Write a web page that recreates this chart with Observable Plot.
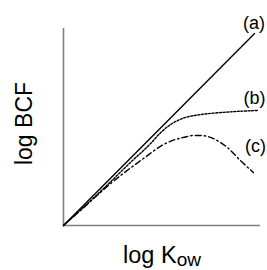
<!DOCTYPE html>
<html>
<head>
<meta charset="utf-8">
<script src="https://cdn.jsdelivr.net/npm/d3@7"></script>
<script src="https://cdn.jsdelivr.net/npm/@observablehq/plot@0.6"></script>
<style>
  html, body { margin: 0; padding: 0; background: #fff; }
  svg { font-family: "Liberation Sans", Arial, sans-serif; }
</style>
</head>
<body>
<div id="chart"></div>
<script>
// Curve (a): linear
const aX = [0, 9.7];
const aY = [0, 9.75];
// Curve (b): levels off
const bX = [0, 1.88, 3.40, 4.42, 4.92, 5.43, 6.09, 6.95, 7.82, 8.48, 9.85];
const bY = [0, 1.73, 3.20, 4.16, 4.70, 5.12, 5.45, 5.63, 5.72, 5.77, 5.84];
// Curve (c): rises then falls
const cX = [0, 0.86, 2.39, 4.06, 5.08, 5.69, 6.09, 6.60, 6.95, 7.46, 7.97, 8.32, 8.98, 9.64];
const cY = [0, 0.76, 2.13, 3.40, 4.11, 4.37, 4.47, 4.57, 4.57, 4.47, 4.21, 3.96, 3.30, 2.69];
// Curve labels
const labels = ["(a)", "(b)", "(c)"];
const labelX = [9.67, 9.70, 9.75];
const labelY = [10.28, 6.47, 4.04];
// Axis titles
const yTitle = "log BCF";
const xTitleMain = "log K";
const xTitleSub = "ow";

const toRows = (xs, ys) => xs.map((x, i) => ({x, y: ys[i]}));
const aRows = toRows(aX, aY);
const bRows = toRows(bX, bY);
const cRows = toRows(cX, cY);
const labelRows = labels.map((t, i) => ({t, x: labelX[i], y: labelY[i]}));

const axisColor = "#808080";

const chart = Plot.plot({
  width: 267,
  height: 270,
  marginLeft: 63,
  marginRight: 7,
  marginTop: 28,
  marginBottom: 45,
  x: {domain: [0, 10], axis: null},
  y: {domain: [0, 10], axis: null},
  marks: [
    Plot.ruleX([0], {stroke: axisColor, strokeWidth: 1.6}),
    Plot.ruleY([0], {stroke: axisColor, strokeWidth: 1.6}),
    Plot.line(aRows, {x: "x", y: "y", stroke: "black", strokeWidth: 1.4}),
    Plot.line(bRows, {x: "x", y: "y", stroke: "black", strokeWidth: 1.4, strokeDasharray: "2,1.6", curve: "monotone-x"}),
    Plot.line(cRows, {x: "x", y: "y", stroke: "black", strokeWidth: 1.4, strokeDasharray: "6,3,1.5,3", curve: "monotone-x"}),
    Plot.text(labelRows, {x: "x", y: "y", text: "t", fontSize: 18, fill: "black", textAnchor: "middle", lineAnchor: "middle", clip: false}),
    Plot.text([yTitle], {frameAnchor: "left", text: d => d, rotate: -90, dx: -38.4, dy: -3.5, fontSize: 23, fill: "black", textAnchor: "middle", lineAnchor: "middle"}),
    Plot.text([xTitleMain], {frameAnchor: "bottom", text: d => d, dy: 37.5, fontSize: 23.5, fill: "black", textAnchor: "middle", lineAnchor: "bottom", className: "xtitle"})
  ]
});

d3.select(chart).select(".xtitle text")
  .append("tspan")
  .attr("dy", 3)
  .attr("font-size", 19)
  .text(xTitleSub);

document.getElementById("chart").appendChild(chart);
</script>
</body>
</html>
